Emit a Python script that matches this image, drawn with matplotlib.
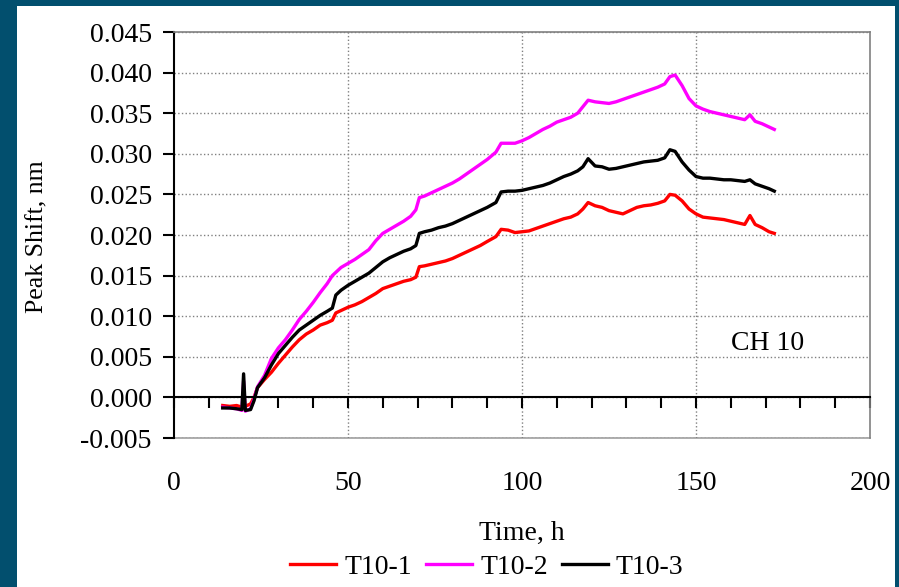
import numpy as np
import matplotlib
matplotlib.use("Agg")
import matplotlib.pyplot as plt
from matplotlib.patches import Rectangle
from matplotlib.ticker import MultipleLocator, FormatStrFormatter

plt.rcParams['font.family'] = ['Liberation Serif', 'DejaVu Serif']
plt.rcParams['axes.unicode_minus'] = False

# time, h
hours = [14, 16, 18, 19.5, 20, 20.5, 22, 23, 24, 26, 28, 30, 32, 34, 36, 38, 40, 42, 44,
         45.5, 46.5, 48, 50, 52, 54, 56, 58, 60, 62, 64, 66, 68, 69.5, 70.5, 72, 74, 76,
         78, 80, 82, 84, 86, 88, 90, 92.5, 94, 96, 98, 100, 102, 104, 106, 108, 110, 112,
         114, 116, 117.5, 119, 121, 123, 125, 127, 129, 131, 133, 135, 137, 139, 141,
         142.5, 144, 146, 148, 150, 152, 154, 156, 158, 160, 162, 164, 165.5, 167, 169,
         171, 172.5]

t10_1 = [-0.0010, -0.0011, -0.0010, -0.0012, -0.0011, -0.0011, -0.0008, 0.0000, 0.0012,
         0.0022, 0.0031, 0.0042, 0.0052, 0.0062, 0.0071, 0.0078, 0.0083, 0.0089, 0.0092,
         0.0095, 0.0104, 0.0107, 0.0111, 0.0114, 0.0118, 0.0123, 0.0128, 0.0134, 0.0137,
         0.0140, 0.0143, 0.0145, 0.0148, 0.0161, 0.0162, 0.0164, 0.0166, 0.0168, 0.0171,
         0.0175, 0.0179, 0.0183, 0.0187, 0.0192, 0.0198, 0.0207, 0.0206, 0.0203, 0.0204,
         0.0205, 0.0208, 0.0211, 0.0214, 0.0217, 0.0220, 0.0222, 0.0226, 0.0232, 0.0240,
         0.0236, 0.0234, 0.0230, 0.0228, 0.0226, 0.0230, 0.0234, 0.0236, 0.0237, 0.0239,
         0.0242, 0.0250, 0.0249, 0.0242, 0.0232, 0.0226, 0.0222, 0.0221, 0.0220, 0.0219,
         0.0217, 0.0215, 0.0213, 0.0224, 0.0213, 0.0209, 0.0204, 0.0202]

t10_2 = [-0.0012, -0.0013, -0.0014, -0.0016, 0.0020, -0.0017, -0.0014, -0.0002, 0.0013,
         0.0027, 0.0048, 0.0061, 0.0071, 0.0083, 0.0096, 0.0106, 0.0117, 0.0129, 0.0140,
         0.0150, 0.0154, 0.0160, 0.0165, 0.0170, 0.0176, 0.0182, 0.0193, 0.0202, 0.0207,
         0.0212, 0.0217, 0.0223, 0.0231, 0.0246, 0.0248, 0.0252, 0.0256, 0.0260, 0.0264,
         0.0269, 0.0275, 0.0281, 0.0287, 0.0293, 0.0302, 0.0313, 0.0313, 0.0313, 0.0316,
         0.0320, 0.0325, 0.0330, 0.0334, 0.0339, 0.0342, 0.0345, 0.0350, 0.0358, 0.0366,
         0.0364, 0.0363, 0.0362, 0.0364, 0.0367, 0.0370, 0.0373, 0.0376, 0.0379, 0.0382,
         0.0386, 0.0395, 0.0397, 0.0384, 0.0368, 0.0359, 0.0355, 0.0352, 0.0350, 0.0348,
         0.0346, 0.0344, 0.0342, 0.0348, 0.0340, 0.0337, 0.0333, 0.0330]

t10_3 = [-0.0013, -0.0013, -0.0014, -0.0015, 0.0029, -0.0016, -0.0015, -0.0004, 0.0012,
         0.0024, 0.0040, 0.0054, 0.0064, 0.0074, 0.0083, 0.0089, 0.0095, 0.0101, 0.0106,
         0.0110, 0.0126, 0.0132, 0.0138, 0.0143, 0.0148, 0.0153, 0.0160, 0.0167, 0.0172,
         0.0176, 0.0180, 0.0183, 0.0187, 0.0202, 0.0204, 0.0206, 0.0209, 0.0211, 0.0214,
         0.0218, 0.0222, 0.0226, 0.0230, 0.0234, 0.0240, 0.0253, 0.0254, 0.0254, 0.0255,
         0.0257, 0.0259, 0.0261, 0.0264, 0.0268, 0.0272, 0.0275, 0.0279, 0.0284, 0.0294,
         0.0285, 0.0284, 0.0281, 0.0282, 0.0284, 0.0286, 0.0288, 0.0290, 0.0291, 0.0292,
         0.0295, 0.0305, 0.0303, 0.0290, 0.0280, 0.0272, 0.0270, 0.0270, 0.0269, 0.0268,
         0.0268, 0.0267, 0.0266, 0.0268, 0.0263, 0.0260, 0.0257, 0.0254]

labels = ["T10-1", "T10-2", "T10-3"]
colors = ["#ff0000", "#ff00ff", "#000000"]

FS = 20

fig = plt.figure(figsize=(8.99, 5.87), dpi=100)
fig.patch.set_facecolor("#024f6e")
# white panel inside the teal frame
fig.patches.append(Rectangle((17/899, 0), (895-17)/899, (587-6)/587,
                             transform=fig.transFigure, facecolor="white",
                             edgecolor="none", zorder=-10))

ax = fig.add_axes([174/899, 149/587, 696/899, 406/587])
ax.set_facecolor("white")

for y, lab, c in zip([t10_1, t10_2, t10_3], labels, colors):
    ax.plot(hours, y, color=c, lw=2.4, label=lab)

ax.set_xlim(0, 200)
ax.set_ylim(-0.005, 0.045)

ax.yaxis.set_major_locator(MultipleLocator(0.005))
ax.yaxis.set_major_formatter(FormatStrFormatter('%.3f'))
ax.tick_params(axis='y', direction='out', length=8, width=1.5, labelsize=FS, pad=8)

# x axis line crosses at y = 0, ticks every 10 h, labels drawn at the bottom
ax.spines['bottom'].set_position(('data', 0))
ax.spines['bottom'].set_linewidth(1.5)
ax.spines['left'].set_linewidth(1.5)
ax.xaxis.set_major_locator(MultipleLocator(10))
ax.tick_params(axis='x', direction='out', length=8, width=1.5, labelbottom=False)
for s in ['top', 'right']:
    ax.spines[s].set_color('#808080')
    ax.spines[s].set_linewidth(1.2)

ax.grid(True, axis='y', color='#808080', linestyle=':', linewidth=1.0)
for xv in [50, 100, 150]:
    ax.axvline(xv, color='#808080', linestyle=':', linewidth=1.0, zorder=0.5)

sec = ax.secondary_xaxis(0)
sec.xaxis.set_major_locator(MultipleLocator(50))
sec.tick_params(length=0, labelsize=FS, pad=24)
sec.spines['bottom'].set_color('#a0a0a0')
sec.spines['bottom'].set_linewidth(1.2)
sec.set_xlabel("Time, h", fontsize=FS, labelpad=18)

ax.set_ylabel("Peak Shift, nm", fontsize=18.5)
ax.yaxis.set_label_coords(-0.18, 0.495)

ax.text(170.7, 0.0066, "CH 10", fontsize=FS, ha='center', va='center')

fig.legend(loc='center', bbox_to_anchor=(487/899, 20/587), ncol=3, frameon=False,
           fontsize=FS, handlelength=1.65, handletextpad=0.3, columnspacing=0.5,
           borderpad=0.2)

fig.savefig("out.png", dpi=100, facecolor=fig.get_facecolor())
